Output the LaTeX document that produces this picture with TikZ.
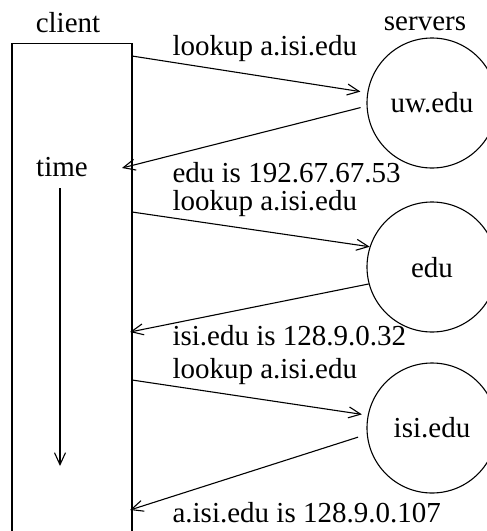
\documentclass[tikz,border=0pt]{standalone}
\usepackage{fontspec}
\setmainfont{Liberation Serif}
\usepackage{tikz}
\usetikzlibrary{arrows.meta,positioning}
\tikzset{>={Straight Barb[length=12pt,width=11pt]}}
\tikzset{server/.style={draw, circle, minimum size=130pt, inner sep=0pt, line width=1.1pt}}

\begin{document}
\begin{tikzpicture}[x=1pt, y=-1pt, font=\fontsize{29}{34}\selectfont, line width=1.1pt]
\useasboundingbox (0,0) rectangle (487,531);
\clip (0,0) rectangle (487,531);
% client side
\node[draw, minimum width=120pt, minimum height=540pt, anchor=north, line width=1.4pt] (client) at (72,43) {};
\node (clientlbl) at (68,23) {client};
\node (time) at (62,167) {time};
\coordinate (t0) at (60,188);
\coordinate (t1) at (60,466);
\draw[->] (t0) -- (t1);
% servers
\node (serverslbl) at (425,24) {servers};
\node[server] (uw) at (432,103) {uw.edu};
\node[server, text depth=-10pt] (edu) at (432,267) {edu};
\node[server] (isi) at (432,428) {isi.edu};
% ends on the client
\coordinate (c1) at (132,56);
\coordinate (c2) at (122,168);
\coordinate (c3) at (132,212);
\coordinate (c4) at (130,332);
\coordinate (c5) at (132,380);
\coordinate (c6) at (130,510);
% queries and answers
\draw[->] (c1) -- ([xshift=-7pt]uw.170);
\draw[->] ([xshift=-6pt]uw.184) -- (c2);
\draw[->] (c3) -- (edu.162);
\draw[->] (edu.195) -- (c4);
\draw[->] (c5) -- ([xshift=-6pt]isi.168);
\draw[->] ([xshift=-9pt]isi.188) -- (c6);
\node[anchor=base west, inner sep=0pt] (q1) at (172,55) {lookup a.isi.edu};
\node[anchor=base west, inner sep=0pt] (a1) at (172,182) {edu is 192.67.67.53};
\node[anchor=base west, inner sep=0pt] (q2) at (172,210) {lookup a.isi.edu};
\node[anchor=base west, inner sep=0pt] (a2) at (172,345) {isi.edu is 128.9.0.32};
\node[anchor=base west, inner sep=0pt] (q3) at (172,378) {lookup a.isi.edu};
\node[anchor=base west, inner sep=0pt] (a3) at (172,522) {a.isi.edu is 128.9.0.107};
\end{tikzpicture}
\end{document}
